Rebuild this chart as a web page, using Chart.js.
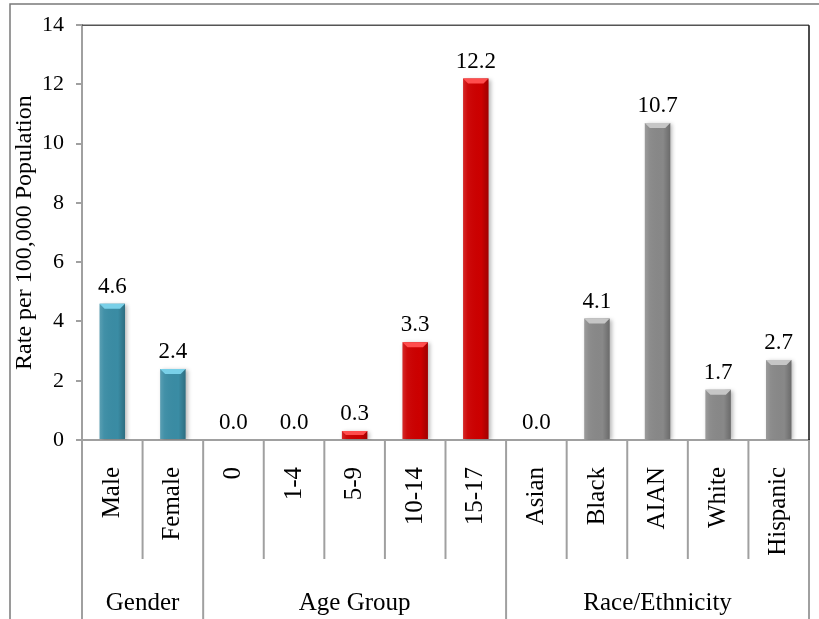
<!DOCTYPE html>
<html>
<head>
<meta charset="utf-8">
<title>Rate per 100,000 Population</title>
<style>
  html, body { margin: 0; padding: 0; background: #ffffff; }
  #wrap { width: 819px; height: 619px; position: relative; }
</style>
<script src="https://cdn.jsdelivr.net/npm/chart.js@4.4.1/dist/chart.umd.min.js"></script>
</head>
<body>
<div id="wrap"><canvas id="chart" width="819" height="619"></canvas></div>
<script>
// Categories and rates
const categories = ['Male', 'Female', '0', '1-4', '5-9', '10-14', '15-17', 'Asian', 'Black', 'AIAN', 'White', 'Hispanic'];
const rates = [4.6, 2.4, 0.0, 0.0, 0.3, 3.3, 12.2, 0.0, 4.1, 10.7, 1.7, 2.7];

// Category groups shown on the second level of the x axis
const groupNames = ['Gender', 'Age Group', 'Race/Ethnicity'];
const groupSizes = [2, 5, 5];
const groupColors = ['#3a8ca4', '#cc0000', '#888888'];
const groupHighlights = ['#79d0e8', '#ff4d4d', '#c6c6c6'];

// Y axis ticks
const yTicks = [0, 2, 4, 6, 8, 10, 12, 14];

const SERIF = '"Liberation Serif", "Times New Roman", Times, serif';

// Expand group colours to one colour per bar
const barColors = [];
const barHighlights = [];
groupSizes.forEach((n, g) => {
  for (let k = 0; k < n; k++) {
    barColors.push(groupColors[g]);
    barHighlights.push(groupHighlights[g]);
  }
});

const decorations = {
  id: 'decorations',
  beforeDraw(chart) {
    const ctx = chart.ctx;
    ctx.save();
    // outer frame
    ctx.strokeStyle = '#7a7a7a';
    ctx.lineWidth = 1.5;
    ctx.beginPath();
    ctx.moveTo(10, 619);
    ctx.lineTo(10, 4);
    ctx.lineTo(819, 4);
    ctx.stroke();
    ctx.restore();
  },
  beforeDatasetsDraw(chart) {
    const ctx = chart.ctx;
    ctx.save();
    ctx.shadowColor = 'rgba(0,0,0,0.28)';
    ctx.shadowBlur = 4;
    ctx.shadowOffsetX = 2;
    ctx.shadowOffsetY = 1;
  },
  afterDatasetsDraw(chart) {
    const ctx = chart.ctx;
    ctx.restore();
    const meta = chart.getDatasetMeta(0);
    const ds = chart.data.datasets[0];
    meta.data.forEach((bar, i) => {
      const p = bar.getProps(['x', 'y', 'base', 'width'], true);
      const left = p.x - p.width / 2;
      const right = p.x + p.width / 2;
      const h = p.base - p.y;
      if (h > 0.5) {
        ctx.save();
        // rounded shading across the bar
        const g = ctx.createLinearGradient(left, 0, right, 0);
        g.addColorStop(0, 'rgba(255,255,255,0.16)');
        g.addColorStop(0.18, 'rgba(255,255,255,0.04)');
        g.addColorStop(0.72, 'rgba(0,0,0,0)');
        g.addColorStop(1, 'rgba(0,0,0,0.22)');
        ctx.fillStyle = g;
        ctx.fillRect(left, p.y, p.width, h);
        // bevelled top edge
        const b = Math.min(5, h / 2);
        ctx.beginPath();
        ctx.moveTo(left, p.y);
        ctx.lineTo(right, p.y);
        ctx.lineTo(right - b, p.y + b);
        ctx.lineTo(left + b, p.y + b);
        ctx.closePath();
        ctx.fillStyle = barHighlights[i];
        ctx.fill();
        ctx.restore();
      }
      // value label
      ctx.save();
      ctx.fillStyle = '#000';
      ctx.font = '23px ' + SERIF;
      ctx.textAlign = 'center';
      ctx.textBaseline = 'alphabetic';
      ctx.fillText(ds.data[i].toFixed(1), p.x, p.y - 11);
      ctx.restore();
    });

    // plot frame: top and right edges
    const a = chart.chartArea;
    ctx.save();
    ctx.lineWidth = 1.5;
    ctx.strokeStyle = '#555';
    ctx.beginPath();
    ctx.moveTo(a.left, a.top);
    ctx.lineTo(a.right, a.top);
    ctx.stroke();
    ctx.strokeStyle = '#111';
    ctx.beginPath();
    ctx.moveTo(a.right, a.top);
    ctx.lineTo(a.right, a.bottom);
    ctx.stroke();
    ctx.restore();
  },
  afterDraw(chart) {
    const ctx = chart.ctx;
    const xs = chart.scales.x;
    const a = chart.chartArea;
    const step = xs.getPixelForValue(1) - xs.getPixelForValue(0);
    const edge = i => xs.getPixelForValue(i) - step / 2;
    const groupEdges = [0];
    groupSizes.forEach(n => groupEdges.push(groupEdges[groupEdges.length - 1] + n));

    ctx.save();
    ctx.strokeStyle = '#a0a0a0';
    ctx.lineWidth = 2;
    for (let i = 0; i <= categories.length; i++) {
      const x = edge(i);
      const isGroup = groupEdges.includes(i);
      ctx.beginPath();
      ctx.moveTo(x, a.bottom);
      ctx.lineTo(x, isGroup ? 619 : 559);
      ctx.stroke();
    }
    // group labels
    ctx.fillStyle = '#000';
    ctx.font = '25px ' + SERIF;
    ctx.textAlign = 'center';
    ctx.textBaseline = 'alphabetic';
    groupNames.forEach((name, g) => {
      const cx = (edge(groupEdges[g]) + edge(groupEdges[g + 1])) / 2;
      ctx.fillText(name, cx, 610);
    });
    ctx.restore();
  }
};

new Chart(document.getElementById('chart'), {
  type: 'bar',
  data: {
    labels: categories,
    datasets: [{
      data: rates,
      backgroundColor: barColors,
      borderWidth: 0,
      barPercentage: 0.42,
      categoryPercentage: 1.0
    }]
  },
  options: {
    responsive: false,
    animation: false,
    devicePixelRatio: 1,
    layout: { padding: { top: 20, right: 10, left: 0, bottom: 0 } },
    plugins: {
      legend: { display: false },
      tooltip: { enabled: false },
      title: { display: false }
    },
    scales: {
      x: {
        type: 'category',
        offset: true,
        grid: { display: false },
        border: { display: true, color: '#a0a0a0', width: 2 },
        ticks: {
          autoSkip: false,
          maxRotation: 90,
          minRotation: 90,
          padding: 19,
          color: '#000',
          font: { family: SERIF, size: 25 }
        },
        afterFit(scale) {
          scale.height = 179;
          scale.paddingLeft = 0;
          scale.paddingRight = 0;
        }
      },
      y: {
        min: 0,
        max: 14,
        afterBuildTicks(scale) {
          scale.ticks = yTicks.map(v => ({ value: v }));
        },
        grid: { drawOnChartArea: false, tickLength: 6, color: '#a0a0a0', lineWidth: 2 },
        border: { display: true, color: '#a0a0a0', width: 2 },
        ticks: {
          padding: 12,
          color: '#000',
          font: { family: SERIF, size: 22 }
        },
        title: {
          display: true,
          text: 'Rate per 100,000 Population',
          color: '#000',
          font: { family: SERIF, size: 24 },
          padding: { top: 10, bottom: 0 }
        },
        afterFit(scale) {
          scale.width = 82;
        }
      }
    }
  },
  plugins: [decorations]
});
</script>
</body>
</html>
